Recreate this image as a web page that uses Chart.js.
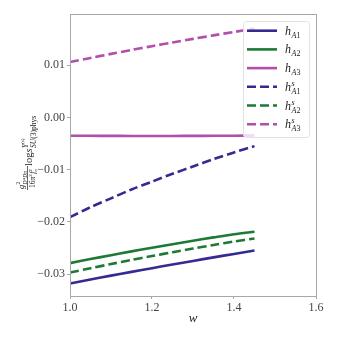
<!DOCTYPE html>
<html>
<head>
<meta charset="utf-8">
<script src="https://cdn.jsdelivr.net/npm/chart.js@4.4.1/dist/chart.umd.min.js"></script>
<style>
html,body{margin:0;padding:0;background:#fff;}
#wrap{width:338px;height:338px;position:relative;}
</style>
</head>
<body>
<div id="wrap"><canvas id="c" width="338" height="338"></canvas></div>
<script>
const wValues = [1.0, 1.05, 1.1, 1.15, 1.2, 1.25, 1.3, 1.35, 1.4, 1.45];
const hA1  = [-0.0318, -0.03105, -0.0303, -0.02958, -0.02887, -0.02817, -0.02748, -0.0268, -0.02614, -0.0255];
const hA2  = [-0.0279, -0.02713, -0.02638, -0.02566, -0.02496, -0.02428, -0.02362, -0.02298, -0.02237, -0.0219];
const hA3  = [-0.0035, -0.00352, -0.00354, -0.00355, -0.00355, -0.00355, -0.00354, -0.00352, -0.0035, -0.00348];
const hA1s = [-0.0191, -0.0172, -0.0155, -0.0138, -0.0123, -0.0108, -0.0094, -0.0080, -0.0067, -0.0055];
const hA2s = [-0.0297, -0.02888, -0.02808, -0.0273, -0.02655, -0.02582, -0.02511, -0.02443, -0.02377, -0.0232];
const hA3s = [0.0106, 0.01139, 0.01216, 0.01291, 0.01364, 0.01435, 0.01504, 0.01571, 0.01636, 0.0170];
const yTicks = [-0.03, -0.02, -0.01, 0.00, 0.01];
const xTicks = [1.0, 1.2, 1.4, 1.6];
const seriesNames = ['A1', 'A2', 'A3', 'A1', 'A2', 'A3'];
const seriesStar  = [false, false, false, true, true, true];

const BLUE = '#352a91', GREEN = '#1d7a35', MAG = '#b24fae';
const SERIF = '"Liberation Serif", "DejaVu Serif", serif';

function pts(ys){ return wValues.map((x,i)=>({x:x, y:ys[i]})); }
function ds(ys, color, dashed, idx){
  return {data: pts(ys), borderColor: color, backgroundColor: color, borderWidth: 2.6,
    borderDash: dashed ? [9,4] : [], pointRadius: 0, tension: 0.3, fill: false,
    sub: seriesNames[idx], star: seriesStar[idx]};
}

function drawRuns(ctx, u, v, runs){
  for (const r of runs){
    ctx.font = (r.italic ? 'italic ' : '') + r.size + 'px ' + SERIF;
    ctx.fillText(r.t, u, v + (r.dv||0));
    if (r.adv !== false) u += ctx.measureText(r.t).width + (r.gap||0);
  }
  return u;
}

const framePlugin = {
  id: 'frame',
  afterDraw(chart){
    const {ctx, chartArea:a} = chart;
    ctx.save();
    ctx.strokeStyle = '#a8a8a8'; ctx.lineWidth = 1;
    ctx.strokeRect(Math.round(a.left)+0.5, Math.round(a.top)+0.5, Math.round(a.right-a.left), Math.round(a.bottom-a.top));
    ctx.restore();

    // legend
    ctx.save();
    const lx = 243, ly = 21, lw = 66, lh = 116;
    ctx.beginPath();
    ctx.roundRect(lx+0.5, ly+0.5, lw, lh, 3);
    ctx.fillStyle = 'rgba(255,255,255,0.8)';
    ctx.fill();
    ctx.strokeStyle = '#e2e2e2'; ctx.lineWidth = 1; ctx.stroke();
    chart.data.datasets.forEach((d,i)=>{
      const y = 30.7 + i*18.7;
      ctx.beginPath();
      ctx.setLineDash(d.borderDash);
      ctx.strokeStyle = d.borderColor; ctx.lineWidth = 2.6;
      ctx.moveTo(247, y); ctx.lineTo(277, y); ctx.stroke();
      ctx.setLineDash([]);
      ctx.fillStyle = '#222';
      ctx.textBaseline = 'alphabetic'; ctx.textAlign = 'left';
      ctx.font = 'italic 12px ' + SERIF;
      ctx.fillText('h', 285, y+4);
      const hw = ctx.measureText('h').width;
      if (d.star){
        ctx.font = 'italic 8px ' + SERIF;
        ctx.fillText('s', 285+hw+0.5, y-1);
      }
      ctx.font = 'italic 8px ' + SERIF;
      ctx.fillText('A', 285+hw+0.5, y+7);
      const aw = ctx.measureText('A').width;
      ctx.font = '8px ' + SERIF;
      ctx.fillText(d.sub.slice(1), 285+hw+0.5+aw, y+7);
    });
    ctx.restore();

    // x title
    ctx.save();
    ctx.fillStyle = '#222';
    ctx.font = 'italic 13px ' + SERIF;
    ctx.textAlign = 'center'; ctx.textBaseline = 'alphabetic';
    ctx.fillText('w', (a.left+a.right)/2, 322);
    ctx.restore();

    // y title (rotated)
    ctx.save();
    ctx.translate(0, 151);
    ctx.rotate(-Math.PI/2);
    ctx.fillStyle = '#222';
    ctx.textBaseline = 'alphabetic'; ctx.textAlign = 'left';
    // numerator
    let u = -38;
    ctx.font = 'italic 8.5px ' + SERIF;
    ctx.fillText('g', u, 24);
    u += ctx.measureText('g').width + 0.3;
    drawRuns(ctx, u, 0, [{t:'2', size:5.5, dv:20, adv:false}]);
    drawRuns(ctx, u, 0, [{t:'D*Dπ', size:5.5, italic:true, dv:26.5}]);
    // bar
    ctx.fillRect(-39, 27, 24, 0.7);
    // denominator
    u = -37;
    u = drawRuns(ctx, u, 35, [{t:'16π', size:7.5}]);
    u = drawRuns(ctx, u, 32, [{t:'2', size:5}]);
    u = drawRuns(ctx, u+0.5, 35, [{t:'f', size:7.5, italic:true}]);
    drawRuns(ctx, u, 31.5, [{t:'2', size:5, adv:false}]);
    drawRuns(ctx, u, 37, [{t:'π', size:5, italic:true}]);
    // log s
    u = -15;
    u = drawRuns(ctx, u, 32, [{t:'log', size:10.5}, {t:'s', size:10.5, italic:true}]);
    const u0 = u + 0.5;
    let u2 = drawRuns(ctx, u0, 27.5, [{t:'Y', size:7.5, italic:true}]);
    drawRuns(ctx, u2, 24, [{t:'(s)', size:5}]);
    drawRuns(ctx, u0, 35.5, [{t:'SU', size:7.5, italic:true}, {t:'(3)phys', size:7.5}]);
    ctx.restore();
  }
};

new Chart(document.getElementById('c'), {
  type: 'line',
  data: {
    datasets: [
      ds(hA1, BLUE, false, 0),
      ds(hA2, GREEN, false, 1),
      ds(hA3, MAG, false, 2),
      ds(hA1s, BLUE, true, 3),
      ds(hA2s, GREEN, true, 4),
      ds(hA3s, MAG, true, 5)
    ]
  },
  options: {
    responsive: false,
    animation: false,
    devicePixelRatio: 1,
    layout: {padding: {left: 0, top: 14, right: 22, bottom: 0}},
    plugins: {legend: {display: false}, tooltip: {enabled: false}},
    scales: {
      x: {
        type: 'linear', min: 1.0, max: 1.6,
        afterBuildTicks: s => { s.ticks = xTicks.map(v=>({value:v})); },
        afterFit: s => { s.height = 42; },
        grid: {display: true, drawOnChartArea: false, drawTicks: true, tickLength: 3, color: '#a8a8a8'},
        border: {display: true, color: '#a8a8a8'},
        ticks: {padding: 2, color: '#444', font: {family: SERIF, size: 12},
          callback: v => v.toFixed(1)}
      },
      y: {
        type: 'linear', min: -0.0342, max: 0.0198,
        afterBuildTicks: s => { s.ticks = yTicks.map(v=>({value:v})); },
        afterFit: s => { s.width = 70; },
        grid: {display: true, drawOnChartArea: false, drawTicks: true, tickLength: 3, color: '#a8a8a8'},
        border: {display: true, color: '#a8a8a8'},
        ticks: {padding: 2, color: '#444', font: {family: SERIF, size: 12},
          callback: v => (v < 0 ? '\u2212' : '') + Math.abs(v).toFixed(2)}
      }
    }
  },
  plugins: [framePlugin]
});
</script>
</body>
</html>
